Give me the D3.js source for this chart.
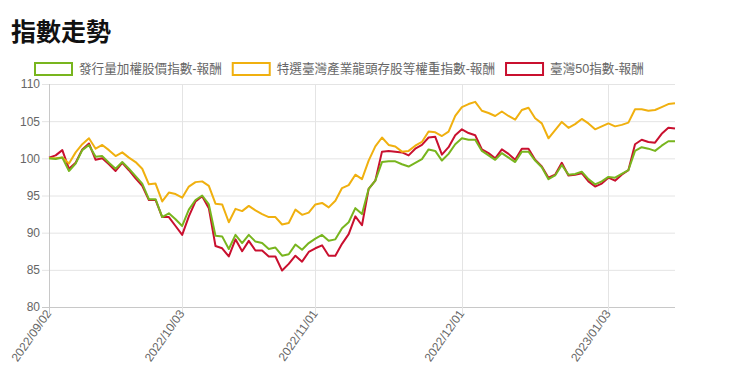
<!DOCTYPE html>
<html lang="zh-Hant">
<head>
<meta charset="UTF-8">
<script src="https://cdn.jsdelivr.net/npm/d3@7"></script>
<title>指數走勢</title>
<style>
  body { margin: 0; background: #fff; }
  svg text { font-family: "Liberation Sans", Arial, "Noto Sans CJK TC", sans-serif; }
  .title { font-weight: bold; font-size: 25px; fill: #111; }
  .legend text { font-size: 12.6px; fill: #666; }
  .axis text { font-size: 12px; fill: #666; }
</style>
</head>
<body>
<div id="chart"></div>
<script>
// trading days (category axis)
var dates = [
  '2022/09/02','2022/09/05','2022/09/06','2022/09/07','2022/09/08','2022/09/12','2022/09/13','2022/09/14','2022/09/15','2022/09/16',
  '2022/09/19','2022/09/20','2022/09/21','2022/09/22','2022/09/23','2022/09/26','2022/09/27','2022/09/28','2022/09/29','2022/09/30',
  '2022/10/03','2022/10/04','2022/10/05','2022/10/06','2022/10/07','2022/10/11','2022/10/12','2022/10/13','2022/10/14','2022/10/17',
  '2022/10/18','2022/10/19','2022/10/20','2022/10/21','2022/10/24','2022/10/25','2022/10/26','2022/10/27','2022/10/28','2022/10/31',
  '2022/11/01','2022/11/02','2022/11/03','2022/11/04','2022/11/07','2022/11/08','2022/11/09','2022/11/10','2022/11/11','2022/11/14',
  '2022/11/15','2022/11/16','2022/11/17','2022/11/18','2022/11/21','2022/11/22','2022/11/23','2022/11/24','2022/11/25','2022/11/28',
  '2022/11/29','2022/11/30','2022/12/01','2022/12/02','2022/12/05','2022/12/06','2022/12/07','2022/12/08','2022/12/09','2022/12/12',
  '2022/12/13','2022/12/14','2022/12/15','2022/12/16','2022/12/19','2022/12/20','2022/12/21','2022/12/22','2022/12/23','2022/12/26',
  '2022/12/27','2022/12/28','2022/12/29','2022/12/30','2023/01/03','2023/01/04','2023/01/05','2023/01/06','2023/01/09','2023/01/10',
  '2023/01/11','2023/01/12','2023/01/13','2023/01/16','2023/01/17'
];
var tickLabels = ['2022/09/02', '2022/10/03', '2022/11/01', '2022/12/01', '2023/01/03'];
var yTicks = [80, 85, 90, 95, 100, 105, 110];

var seriesNames = ['發行量加權股價指數-報酬', '特選臺灣產業龍頭存股等權重指數-報酬', '臺灣50指數-報酬'];
var colors = ['#78b51e', '#f0b00f', '#c9102f'];

var taiex = [
  100.0, 99.9, 100.1, 98.3, 99.3, 101.1, 101.8, 100.2, 100.3, 99.4,
  98.6, 99.5, 98.6, 97.6, 96.6, 94.5, 94.5, 92.1, 92.6, 91.8,
  90.9, 93.1, 94.4, 95.0, 93.8, 89.6, 89.5, 87.8, 89.7, 88.6,
  89.7, 88.8, 88.6, 87.8, 88.0, 86.9, 87.1, 88.4, 87.7, 88.6,
  89.2, 89.7, 88.9, 89.1, 90.6, 91.4, 93.3, 92.5, 95.9, 97.0,
  99.5, 99.6, 99.6, 99.2, 98.9, 99.4, 99.9, 101.2, 101.0, 99.7,
  100.6, 101.9, 102.7, 102.5, 102.5, 101.0, 100.4, 99.8, 100.7, 100.1,
  99.5, 100.9, 100.9, 99.7, 98.8, 97.2, 97.7, 99.1, 97.8, 97.9,
  98.2, 97.2, 96.5, 96.9, 97.5, 97.4, 97.9, 98.4, 101.0, 101.5,
  101.3, 101.0, 101.7, 102.3, 102.3
];
var leaders = [
  100.0, 100.0, 100.1, 99.3, 100.8, 101.9, 102.7, 101.3, 101.8, 101.1,
  100.3, 100.8, 100.1, 99.5, 98.6, 96.5, 96.6, 94.2, 95.4, 95.2,
  94.7, 96.2, 96.8, 96.9, 96.3, 93.9, 93.8, 91.4, 93.2, 92.9,
  93.6, 93.0, 92.5, 92.1, 92.1, 91.1, 91.3, 93.1, 92.4, 92.7,
  93.8, 94.0, 93.4, 94.3, 96.0, 96.4, 97.8, 97.2, 99.7, 101.6,
  102.8, 101.8, 101.6, 100.9, 101.0, 101.7, 102.2, 103.6, 103.5, 103.0,
  103.6, 105.7, 106.9, 107.3, 107.6, 106.4, 106.1, 105.7, 106.3, 105.7,
  105.2, 106.5, 106.8, 105.4, 104.7, 102.7, 103.8, 104.9, 104.1, 104.6,
  105.3, 104.7, 103.9, 104.3, 104.7, 104.3, 104.5, 104.8, 106.6, 106.6,
  106.4, 106.5, 106.9, 107.3, 107.4
];
var tw50 = [
  100.1, 100.4, 101.1, 98.6, 99.4, 101.2, 102.0, 99.8, 100.0, 99.2,
  98.3, 99.4, 98.4, 97.3, 96.3, 94.4, 94.4, 92.1, 92.1, 90.9,
  89.7, 92.2, 94.2, 94.9, 93.3, 88.2, 87.9, 86.8, 89.1, 87.5,
  88.9, 87.6, 87.6, 86.8, 86.8, 84.9, 85.8, 86.9, 86.1, 87.4,
  87.9, 88.3, 86.9, 86.9, 88.5, 89.8, 92.2, 91.0, 95.9, 97.0,
  100.9, 101.0, 100.9, 100.8, 100.4, 101.3, 101.8, 102.8, 102.9, 100.5,
  101.5, 103.1, 103.9, 103.4, 103.1, 101.2, 100.7, 100.0, 101.2, 100.6,
  99.8, 101.3, 101.3, 99.8, 98.9, 97.4, 97.8, 99.4, 97.7, 97.8,
  98.0, 96.9, 96.2, 96.6, 97.4, 97.0, 97.8, 98.4, 101.9, 102.5,
  102.2, 102.1, 103.3, 104.1, 104.0
];
var seriesValues = [taiex, leaders, tw50];

var width = 740, height = 371;
var margin = { top: 84, right: 65, bottom: 64, left: 49 };

var svg = d3.select('#chart').append('svg')
    .attr('width', width)
    .attr('height', height);

svg.append('text')
    .attr('class', 'title')
    .attr('x', 11)
    .attr('y', 41)
    .text('指數走勢');

var x = d3.scalePoint()
    .domain(dates)
    .range([margin.left, width - margin.right]);

var y = d3.scaleLinear()
    .domain([80, 110])
    .range([height - margin.bottom, margin.top]);

// horizontal grid
svg.append('g')
    .selectAll('line')
    .data(yTicks)
    .enter().append('line')
    .attr('x1', margin.left - 7)
    .attr('x2', width - margin.right)
    .attr('y1', function(d) { return y(d) + 0.5; })
    .attr('y2', function(d) { return y(d) + 0.5; })
    .attr('stroke', function(d) { return d === 80 ? '#c8c8c8' : '#e4e4e4'; })
    .attr('stroke-width', 1);

// vertical grid at the labelled dates
svg.append('g')
    .selectAll('line')
    .data(tickLabels)
    .enter().append('line')
    .attr('x1', function(d) { return Math.round(x(d)) + 0.5; })
    .attr('x2', function(d) { return Math.round(x(d)) + 0.5; })
    .attr('y1', margin.top)
    .attr('y2', height - margin.bottom + 7)
    .attr('stroke', function(d, i) { return i === 0 ? '#c8c8c8' : '#e4e4e4'; })
    .attr('stroke-width', 1);

// y axis labels
var yAxis = svg.append('g')
    .attr('class', 'axis')
    .attr('transform', 'translate(' + margin.left + ',0)')
    .call(d3.axisLeft(y).tickValues(yTicks).tickSize(0).tickPadding(9));
yAxis.select('.domain').remove();
yAxis.selectAll('text').attr('fill', '#666').style('font-size', '12px');

// x axis labels (rotated)
var xAxis = svg.append('g')
    .attr('class', 'axis')
    .attr('transform', 'translate(0,' + (height - margin.bottom) + ')')
    .call(d3.axisBottom(x).tickValues(tickLabels).tickSize(0));
xAxis.select('.domain').remove();
xAxis.selectAll('text')
    .attr('fill', '#666')
    .style('font-size', '12px')
    .style('text-anchor', 'end')
    .attr('dy', '0.35em')
    .attr('transform', 'translate(-1,4) rotate(-55)')
    .attr('y', 0)
    .attr('x', 0);

// lines, first dataset on top
var line = d3.line()
    .x(function(d, i) { return x(dates[i]); })
    .y(function(d) { return y(d); });

var order = [2, 1, 0];
svg.append('g')
    .selectAll('path')
    .data(order)
    .enter().append('path')
    .attr('fill', 'none')
    .attr('stroke', function(k) { return colors[k]; })
    .attr('stroke-width', 2)
    .attr('stroke-linejoin', 'round')
    .attr('d', function(k) { return line(seriesValues[k]); });

// legend
var legend = svg.append('g').attr('class', 'legend');
var lx = 34;
seriesNames.forEach(function(name, i) {
    var g = legend.append('g').attr('transform', 'translate(' + lx + ',62)');
    g.append('rect')
        .attr('x', 1).attr('y', 1)
        .attr('width', 37).attr('height', 12)
        .attr('fill', '#fff')
        .attr('stroke', colors[i])
        .attr('stroke-width', 2);
    var t = g.append('text')
        .attr('x', 45)
        .attr('y', 7)
        .attr('dy', '0.35em')
        .text(name);
    lx += 45 + t.node().getComputedTextLength() + 10;
});
</script>
</body>
</html>
